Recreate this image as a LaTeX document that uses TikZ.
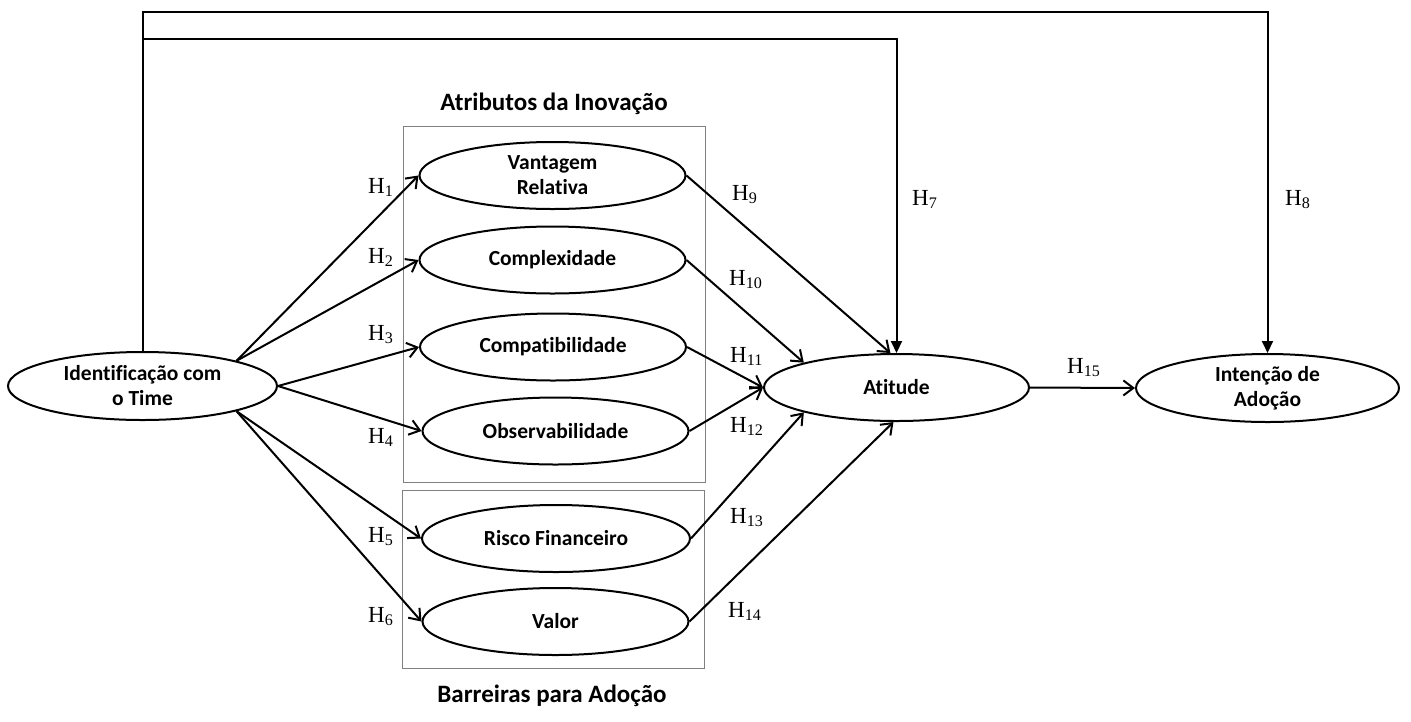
\documentclass[tikz,border=0pt]{standalone}
\usepackage{fontspec}
\setmainfont{Carlito}[Ligatures=NoCommon]
\newfontfamily\hfont{Liberation Serif}
\usetikzlibrary{arrows.meta,shapes.geometric}
\definecolor{boxgray}{RGB}{128,128,128}
\begin{document}
\begin{tikzpicture}[x=1pt,y=-1pt,line join=miter,
  ell/.style={ellipse,draw,line width=2pt,inner sep=0pt,minimum width=266pt,minimum height=67pt,align=center,font=\fontsize{21.5}{25}\selectfont\bfseries},
  grp/.style={draw=boxgray,line width=1pt},
  conn/.style={line width=2pt,-{Straight Barb[length=10pt,width=15pt,line width=2pt]}},
  fconn/.style={line width=2pt,-{Triangle[length=12pt,width=11pt]}},
  hyp/.style={anchor=base west,inner sep=0pt,font=\hfont\fontsize{23}{26}\selectfont},
  ttl/.style={anchor=base,inner sep=0pt,font=\fontsize{25}{30}\selectfont\bfseries}
]
\useasboundingbox (0,0) rectangle (1411,721);

% group boxes
\draw[grp] (403,126) rectangle (705,482);
\draw[grp] (402,490) rectangle (704,668);
\node[ttl] (t1) at (554,110) {Atributos da Inovação};
\node[ttl] (t2) at (552,702) {Barreiras para Adoção};

% constructs
\node[ell,minimum width=269pt,minimum height=68pt] (id) at (142.5,386) {Identificação com\\o Time};
\node[ell] (vr) at (552.5,175.5) {Vantagem\\Relativa};
\node[ell] (cx) at (552.5,260) {Complexidade};
\node[ell] (cp) at (553,347) {Compatibilidade};
\node[ell] (ob) at (555.5,431) {Observabilidade};
\node[ell,minimum width=268pt] (rf) at (556,538.5) {Risco Financeiro};
\node[ell] (vl) at (555.5,621.5) {Valor};
\node[ell,minimum width=265pt] (at) at (896.5,387.5) {Atitude};
\node[ell,minimum width=263pt,minimum height=68pt] (in) at (1267.5,388) {Intenção de\\Adoção};

% connectors
\draw[conn] (id.15) -- (vr.west);
\draw[conn] (id.15) -- (cx.west);
\draw[conn] (id.east) -- (cp.west);
\draw[conn] (id.east) -- (ob.west);
\draw[conn] (id.-15) -- (rf.west);
\draw[conn] (id.-15) -- (vl.west);
\draw[conn] (vr.east) -- (at.100);
\draw[conn] (cx.east) -- (at.165);
\draw[conn] (cp.east) -- (at.west);
\draw[conn] (ob.east) -- (at.west);
\draw[conn] (rf.east) -- (at.195);
\draw[conn] (vl.east) -- (at.265);
\draw[conn] (at.east) -- (in.west);

\coordinate (tl) at (142.5,12);
\coordinate (ml) at (142.5,39);
\draw[fconn] (id.north) -- (tl) -| (in.north);
\draw[fconn] (ml) -| (at.north);

% hypothesis labels
\node[hyp] (h1) at (368,193) {H\textsubscript{1}};
\node[hyp] (h2) at (368,263) {H\textsubscript{2}};
\node[hyp] (h3) at (368,340) {H\textsubscript{3}};
\node[hyp] (h4) at (368,443) {H\textsubscript{4}};
\node[hyp] (h5) at (368,542) {H\textsubscript{5}};
\node[hyp] (h6) at (368,622) {H\textsubscript{6}};
\node[hyp] (h7) at (912,205) {H\textsubscript{7}};
\node[hyp] (h8) at (1285,205) {H\textsubscript{8}};
\node[hyp] (h9) at (732,200) {H\textsubscript{9}};
\node[hyp] (h10) at (729,285) {H\textsubscript{10}};
\node[hyp] (h11) at (730,362) {H\textsubscript{11}};
\node[hyp] (h12) at (730,432) {H\textsubscript{12}};
\node[hyp] (h13) at (730,523) {H\textsubscript{13}};
\node[hyp] (h14) at (728,617) {H\textsubscript{14}};
\node[hyp] (h15) at (1067,373) {H\textsubscript{15}};
\end{tikzpicture}
\end{document}
